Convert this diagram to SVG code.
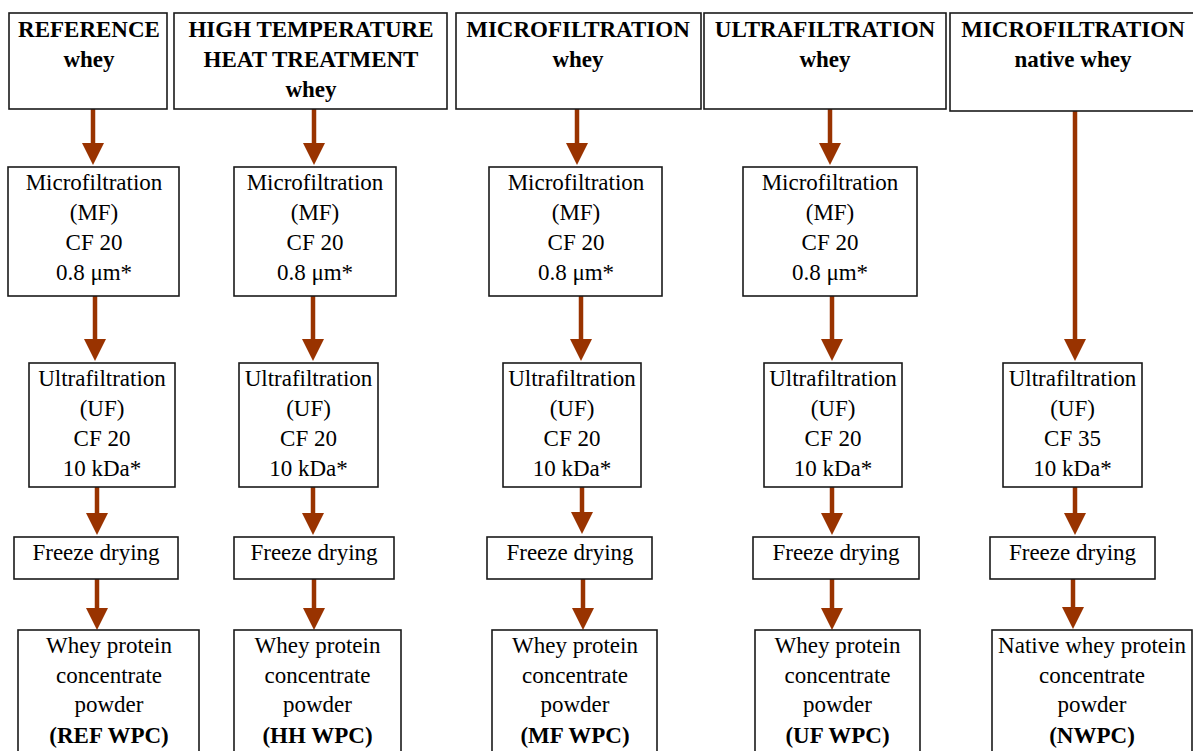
<svg xmlns="http://www.w3.org/2000/svg" width="1193" height="751" viewBox="0 0 1193 751">
<style>
.box{fill:#fff;stroke:#1a1a1a;stroke-width:1.6}
text{font-family:"Liberation Serif","Times New Roman",serif;font-size:23px;fill:#000;text-anchor:middle}
.b{font-weight:bold}
.arr{stroke:#993300;stroke-width:4.5;fill:none;marker-end:url(#ah)}
</style>
<defs>
<marker id="ah" markerUnits="userSpaceOnUse" markerWidth="22" markerHeight="22" refX="1" refY="11" orient="auto" viewBox="0 0 22 22">
<path d="M0,0 L22,11 L0,22 z" fill="#993300"/>
</marker>
</defs>
<rect width="1193" height="751" fill="#fff"/>

<g id="connectors">
<line class="arr" x1="93" y1="109" x2="93" y2="144"/>
<line class="arr" x1="95" y1="296" x2="95" y2="340"/>
<line class="arr" x1="97" y1="487" x2="97" y2="514"/>
<line class="arr" x1="97" y1="579" x2="97" y2="609"/>

<line class="arr" x1="314" y1="109" x2="314" y2="144"/>
<line class="arr" x1="313" y1="296" x2="313" y2="340"/>
<line class="arr" x1="313" y1="487" x2="313" y2="514"/>
<line class="arr" x1="314" y1="579" x2="314" y2="609"/>

<line class="arr" x1="577" y1="109" x2="577" y2="144"/>
<line class="arr" x1="581" y1="296" x2="581" y2="340"/>
<line class="arr" x1="582" y1="487" x2="582" y2="513"/>
<line class="arr" x1="583" y1="579" x2="583" y2="609"/>

<line class="arr" x1="830" y1="109" x2="830" y2="144"/>
<line class="arr" x1="832" y1="296" x2="832" y2="340"/>
<line class="arr" x1="832" y1="487" x2="832" y2="514"/>
<line class="arr" x1="832" y1="579" x2="832" y2="609"/>

<line class="arr" x1="1075" y1="111" x2="1075" y2="340"/>
<line class="arr" x1="1075" y1="487" x2="1075" y2="514"/>
<line class="arr" x1="1073" y1="579" x2="1073" y2="608"/>
</g>

<g id="h-ref">
<rect class="box" x="9" y="13" width="158" height="96"/>
<text class="b" x="89" y="37">REFERENCE</text>
<text class="b" x="89" y="67">whey</text>
</g>
<g id="h-hh">
<rect class="box" x="174" y="13" width="273" height="96"/>
<text class="b" x="311" y="37">HIGH TEMPERATURE</text>
<text class="b" x="311" y="67">HEAT TREATMENT</text>
<text class="b" x="311" y="97">whey</text>
</g>
<g id="h-mf">
<rect class="box" x="456" y="13" width="245" height="96"/>
<text class="b" x="578" y="37">MICROFILTRATION</text>
<text class="b" x="578" y="67">whey</text>
</g>
<g id="h-uf">
<rect class="box" x="704" y="13" width="242" height="96"/>
<text class="b" x="825" y="37">ULTRAFILTRATION</text>
<text class="b" x="825" y="67">whey</text>
</g>
<g id="h-native">
<rect class="box" x="950" y="13" width="260" height="98"/>
<text class="b" x="1073" y="37">MICROFILTRATION</text>
<text class="b" x="1073" y="67">native whey</text>
</g>

<g id="mf1">
<rect class="box" x="8" y="167" width="171" height="129"/>
<text x="94" y="190">Microfiltration</text><text x="94" y="220">(MF)</text><text x="94" y="250">CF 20</text><text x="94" y="280">0.8 μm*</text>
</g>
<g id="mf2">
<rect class="box" x="234" y="167" width="162" height="129"/>
<text x="315" y="190">Microfiltration</text><text x="315" y="220">(MF)</text><text x="315" y="250">CF 20</text><text x="315" y="280">0.8 μm*</text>
</g>
<g id="mf3">
<rect class="box" x="489" y="167" width="173" height="129"/>
<text x="576" y="190">Microfiltration</text><text x="576" y="220">(MF)</text><text x="576" y="250">CF 20</text><text x="576" y="280">0.8 μm*</text>
</g>
<g id="mf4">
<rect class="box" x="743" y="167" width="174" height="129"/>
<text x="830" y="190">Microfiltration</text><text x="830" y="220">(MF)</text><text x="830" y="250">CF 20</text><text x="830" y="280">0.8 μm*</text>
</g>

<g id="uf1">
<rect class="box" x="29" y="363" width="146" height="124"/>
<text x="102" y="386">Ultrafiltration</text><text x="102" y="416">(UF)</text><text x="102" y="446">CF 20</text><text x="102" y="476">10 kDa*</text>
</g>
<g id="uf2">
<rect class="box" x="239" y="363" width="139" height="124"/>
<text x="308.5" y="386">Ultrafiltration</text><text x="308.5" y="416">(UF)</text><text x="308.5" y="446">CF 20</text><text x="308.5" y="476">10 kDa*</text>
</g>
<g id="uf3">
<rect class="box" x="503" y="363" width="138" height="124"/>
<text x="572" y="386">Ultrafiltration</text><text x="572" y="416">(UF)</text><text x="572" y="446">CF 20</text><text x="572" y="476">10 kDa*</text>
</g>
<g id="uf4">
<rect class="box" x="764" y="363" width="138" height="124"/>
<text x="833" y="386">Ultrafiltration</text><text x="833" y="416">(UF)</text><text x="833" y="446">CF 20</text><text x="833" y="476">10 kDa*</text>
</g>
<g id="uf5">
<rect class="box" x="1003" y="363" width="139" height="124"/>
<text x="1072.5" y="386">Ultrafiltration</text><text x="1072.5" y="416">(UF)</text><text x="1072.5" y="446">CF 35</text><text x="1072.5" y="476">10 kDa*</text>
</g>

<g id="fd1"><rect class="box" x="14" y="537" width="164" height="42"/><text x="96" y="560">Freeze drying</text></g>
<g id="fd2"><rect class="box" x="234" y="537" width="160" height="42"/><text x="314" y="560">Freeze drying</text></g>
<g id="fd3"><rect class="box" x="487" y="537" width="165" height="42"/><text x="570" y="560">Freeze drying</text></g>
<g id="fd4"><rect class="box" x="753" y="537" width="166" height="42"/><text x="836" y="560">Freeze drying</text></g>
<g id="fd5"><rect class="box" x="990" y="537" width="165" height="42"/><text x="1072.5" y="560">Freeze drying</text></g>

<g id="p1">
<rect class="box" x="18" y="630" width="181" height="130"/>
<text x="109" y="653">Whey protein</text><text x="109" y="683">concentrate</text><text x="109" y="712">powder</text><text class="b" x="109" y="743">(REF WPC)</text>
</g>
<g id="p2">
<rect class="box" x="234" y="630" width="167" height="130"/>
<text x="317.5" y="653">Whey protein</text><text x="317.5" y="683">concentrate</text><text x="317.5" y="712">powder</text><text class="b" x="317.5" y="743">(HH WPC)</text>
</g>
<g id="p3">
<rect class="box" x="492" y="630" width="165" height="130"/>
<text x="575" y="653">Whey protein</text><text x="575" y="683">concentrate</text><text x="575" y="712">powder</text><text class="b" x="575" y="743">(MF WPC)</text>
</g>
<g id="p4">
<rect class="box" x="755" y="630" width="165" height="130"/>
<text x="837.5" y="653">Whey protein</text><text x="837.5" y="683">concentrate</text><text x="837.5" y="712">powder</text><text class="b" x="837.5" y="743">(UF WPC)</text>
</g>
<g id="p5">
<rect class="box" x="992" y="630" width="200" height="130"/>
<text x="1092" y="653">Native whey protein</text><text x="1092" y="683">concentrate</text><text x="1092" y="712">powder</text><text class="b" x="1092" y="743">(NWPC)</text>
</g>
</svg>
